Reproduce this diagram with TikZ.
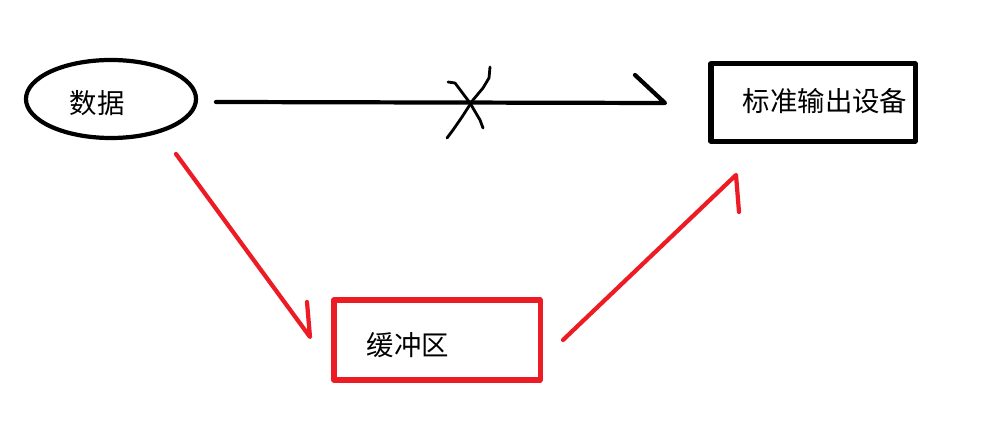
\documentclass[tikz,border=0pt]{standalone}
\usepackage{fontspec}
\newfontfamily\cjk{Noto Sans CJK SC}
\usetikzlibrary{shapes.geometric}
\definecolor{paintred}{HTML}{ED1C24}

\begin{document}
\begin{tikzpicture}[x=0.025cm, y=-0.025cm, line join=round, line cap=round,
  pen/.style={line width=3pt},
  cjktext/.style={font=\cjk\fontsize{19.5}{22}\selectfont, inner sep=0pt}]
\useasboundingbox[fill=white] (0,0) rectangle (988,444);
% the three boxes
\node[draw, pen, ellipse, minimum width=4.25cm, minimum height=1.95cm] (data) at (111,99) {};
\node[draw, pen, line width=3.6pt, rectangle, minimum width=5.1cm, minimum height=1.93cm] (stdout) at (813,102.5) {};
\node[draw=paintred, pen, line width=3.6pt, rectangle, minimum width=5.15cm, minimum height=2cm] (buffer) at (437,340) {};
\node[cjktext] (datatext) at (97,103) {数据};
\node[cjktext] (stdouttext) at (825,101) {标准输出设备};
\node[cjktext] (buffertext) at (408,345) {缓冲区};
% hand drawn arrows
\coordinate (A) at (216,102);
\coordinate (B) at (665,103);
\coordinate (Bh) at (635,75);
\coordinate (C) at (176,154);
\coordinate (D) at (310,337);
\coordinate (Dh) at (307,302);
\coordinate (E) at (563,340);
\coordinate (F) at (736,175);
\coordinate (Fh) at (739,212);
\draw[pen] (A)--(B)--(Bh);
\draw[pen, paintred] (C)--(D)--(Dh);
\draw[pen, paintred] (E)--(F)--(Fh);
% the cross on the direct way
\draw[line width=2pt] (448,82)--(455,83)--(470,103)--(480,120)--(483,128);
\draw[line width=2pt] (490,67)--(489,78)--(483,88)--(473,100)--(462,117)--(453,130)--(447,138);
\end{tikzpicture}
\end{document}
